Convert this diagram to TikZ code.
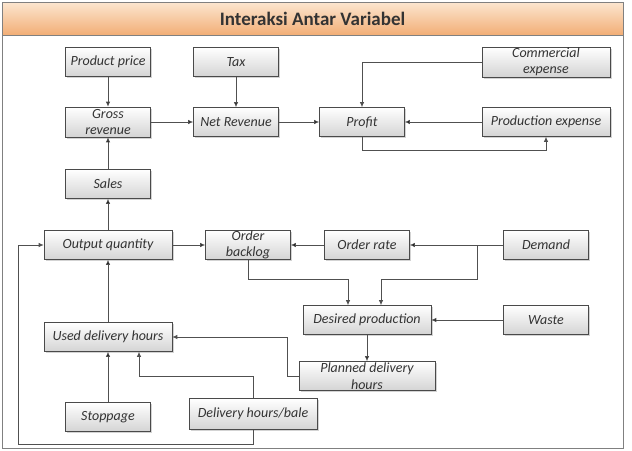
\documentclass[tikz,border=0pt]{standalone}
\usepackage{fontspec}
\setmainfont{Carlito}
\usetikzlibrary{arrows.meta, positioning, shadows}

\definecolor{boxline}{HTML}{4A4A4A}
\definecolor{boxshade}{HTML}{D4D4D4}
\definecolor{titletop}{HTML}{FCE6D0}
\definecolor{titlebot}{HTML}{F2AE76}
\definecolor{wire}{HTML}{505050}

\begin{document}
\begin{tikzpicture}[
        x = 1pt, y = -1pt,
        on grid,
        >= {Latex[length = 5pt, width = 4.5pt]},
        var/.style = {draw = boxline, semithick, top color = white, bottom color = boxshade,
                      drop shadow = {opacity = 0.35, shadow xshift = 1.5pt, shadow yshift = -1.5pt},
                      minimum width = 85pt, minimum height = 29pt, inner sep = 0pt,
                      align = center, text = black!80,
                      font = \fontsize{14}{16.5}\selectfont\itshape},
        wide/.style = {minimum width = 128pt},
        link/.style = {->, draw = wire, thick},
        titlebar/.style = {draw = gray, top color = titletop, bottom color = titlebot,
                           minimum width = 621pt, minimum height = 33pt, text = black!80,
                           font = \fontsize{19}{19}\selectfont\bfseries}
    ]

    \useasboundingbox (0,0) rectangle (632,450);
    \draw[gray, thin] (2,2) rectangle (623,448);
    \node[titlebar] (title) at (312.5,18.5) {Interaksi Antar Variabel};

    % revenue side
    \node[var] (prodprice) at (108,62) {Product price};
    \node[var] (tax) [right = 128pt of prodprice] {Tax};
    \node[var, minimum height = 30pt] (gross) [below = 60pt of prodprice] {Gross\\revenue};
    \node[var] (netrev) [below = 60pt of tax] {Net Revenue};
    \node[var] (profit) [right = 126pt of netrev] {Profit};
    \node[var, wide] (prodexp) [right = 184pt of profit] {Production expense};
    \node[var, wide, minimum height = 30pt] (commexp) [above = 60pt of prodexp] {Commercial\\expense};
    \node[var] (sales) [below = 62pt of gross] {Sales};

    % production side
    \node[var, wide] (outq) [below = 61pt of sales] {Output quantity};
    \node[var] (backlog) [right = 140pt of outq] {Order\\backlog};
    \node[var] (orate) [right = 119pt of backlog] {Order rate};
    \node[var] (demand) [right = 179pt of orate] {Demand};
    \node[var, wide] (desprod) [below = 75pt of orate] {Desired production};
    \node[var] (waste) [below = 75pt of demand] {Waste};
    \node[var, wide] (useddh) [below = 92pt of outq] {Used delivery hours};
    \node[var, minimum width = 136pt] (planned) [below = 56pt of desprod] {Planned delivery\\hours};
    \node[var] (stoppage) [below = 80pt of useddh] {Stoppage};
    \node[var, wide, minimum height = 31pt] (dhb) at (253,414) {Delivery hours/bale};

    \coordinate (split) at ([xshift = -26pt]demand.west);
    \coordinate (loop) at (18,444);

    \path[link]
        (prodprice) edge (gross)
        (tax) edge (netrev)
        (gross) edge (netrev)
        (netrev) edge (profit)
        (prodexp) edge (profit)
        (sales) edge (gross)
        (outq) edge (sales)
        (outq) edge (backlog)
        (orate) edge (backlog)
        (demand) edge (orate)
        (waste) edge (desprod)
        (desprod) edge (planned)
        (stoppage) edge (useddh)
        (useddh) edge (outq);

    \draw[link] (commexp.west) -| (profit.north);
    \draw[link] (profit.south) -- ++(0,14) -| (prodexp.south);
    \draw[link] (backlog.south) -- ++(0,20) -| ([xshift = -19pt]desprod.north);
    \draw[link] (split) -- ++(0,34) -| ([xshift = 14pt]desprod.north);
    \draw[link] (planned.west) -- ++(-11,0) |- (useddh.east);
    \draw[link] (dhb.north) -- ++(0,-22) -| ([xshift = 31pt]useddh.south);
    \draw[link] (dhb.south) |- (loop) |- (outq.west);

\end{tikzpicture}
\end{document}
